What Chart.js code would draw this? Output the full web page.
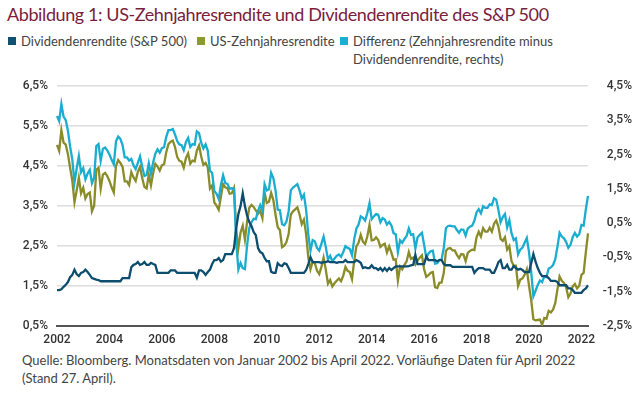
<!DOCTYPE html>
<html lang="de">
<head>
<meta charset="utf-8">
<title>Abbildung 1</title>
<script src="https://cdn.jsdelivr.net/npm/chart.js@4.4.1/dist/chart.umd.min.js"></script>
<style>
  html, body { margin: 0; padding: 0; background: #fff; }
  body { width: 640px; height: 395px; position: relative; overflow: hidden; font-family: Lato, "Open Sans", sans-serif; }
  #title { position: absolute; left: 7px; top: 3px; font-size: 18px; letter-spacing: -0.4px; color: #7b1d3d; white-space: nowrap; }
  .legend { position: absolute; top: 32px; font-size: 13px; color: #444; line-height: 18px; white-space: nowrap; }
  .legend i { position: absolute; left: 0; top: 5px; width: 8px; height: 8px; }
  .legend span { display: block; padding-left: 13px; }
  #chartBox { position: absolute; left: 0; top: 70px; width: 640px; height: 280px; }
  #source { position: absolute; left: 22px; top: 351px; font-size: 13px; color: #444; line-height: 18px; width: 610px; }
</style>
</head>
<body>
<div id="title">Abbildung 1: US-Zehnjahresrendite und Dividendenrendite des S&amp;P 500</div>
<div class="legend" style="left:8px"><i style="background:#11506f"></i><span>Dividendenrendite (S&amp;P 500)</span></div>
<div class="legend" style="left:197px"><i style="background:#8b9a2e"></i><span>US-Zehnjahresrendite</span></div>
<div class="legend" style="left:340px"><i style="background:#1ab0d4"></i><span>Differenz (Zehnjahresrendite minus<br>Dividendenrendite, rechts)</span></div>
<div id="chartBox"><canvas id="chart"></canvas></div>
<div id="source">Quelle: Bloomberg. Monatsdaten von Januar 2002 bis April 2022. Vorläufige Daten für April 2022<br>(Stand 27. April).</div>
<script>
// Monatsdaten Januar 2002 - April 2022
const firstYear = 2002;
const lastYear = 2022;
const lastMonth = 4;

// Dividendenrendite S&P 500 (%), linke Achse
const dividendYield = [
  1.40, 1.40, 1.42, 1.48, 1.53, 1.60, 1.72, 1.78, 1.91, 1.80, 1.75, 1.83,
  1.85, 1.91, 1.85, 1.78, 1.70, 1.68, 1.66, 1.65, 1.62, 1.62, 1.62, 1.62,
  1.62, 1.62, 1.62, 1.62, 1.62, 1.62, 1.70, 1.70, 1.70, 1.70, 1.97, 2.03,
  2.05, 2.10, 2.03, 2.05, 2.10, 2.03, 2.03, 2.08, 2.05, 2.03, 1.83, 1.83,
  1.83, 1.83, 1.83, 1.83, 1.89, 1.89, 1.89, 1.83, 1.83, 1.83, 1.83, 1.83,
  1.83, 1.83, 1.83, 1.83, 1.71, 1.89, 1.89, 1.85, 1.78, 1.85, 1.91, 2.05,
  2.15, 2.15, 2.20, 2.11, 2.15, 2.30, 2.30, 2.30, 2.30, 2.45, 2.95, 3.30,
  3.50, 3.82, 3.50, 3.26, 3.10, 3.00, 2.85, 2.77, 2.45, 2.35, 2.32, 2.20,
  2.12, 2.12, 1.86, 1.83, 1.83, 2.07, 2.02, 2.00, 2.07, 2.05, 1.95, 1.83,
  1.83, 1.83, 1.83, 1.83, 1.83, 1.83, 1.90, 2.05, 2.22, 2.10, 2.10, 2.10,
  2.10, 2.08, 2.10, 2.10, 2.12, 2.10, 2.10, 2.10, 2.08, 2.10, 2.10, 2.10,
  2.15, 2.10, 2.10, 2.10, 2.10, 2.15, 2.12, 2.08, 1.95, 1.97, 1.95, 1.95,
  2.02, 1.95, 1.95, 1.90, 1.95, 1.88, 1.95, 1.88, 1.95, 1.90, 1.95, 1.99,
  1.99, 1.99, 1.99, 1.99, 1.99, 2.00, 2.02, 2.03, 2.28, 2.05, 2.05, 2.05,
  2.05, 2.24, 2.15, 2.15, 2.15, 2.15, 2.12, 2.15, 2.15, 2.05, 2.02, 2.02,
  2.02, 1.98, 1.98, 1.98, 1.98, 1.98, 1.98, 1.98, 1.98, 1.98, 1.98, 1.83,
  1.90, 1.95, 1.95, 1.95, 1.91, 1.91, 1.91, 1.83, 1.83, 1.95, 2.10, 2.15,
  1.95, 1.95, 2.03, 1.91, 1.91, 2.00, 1.95, 1.91, 1.93, 1.90, 1.85, 1.85,
  1.85, 2.07, 2.30, 2.11, 1.95, 1.83, 1.75, 1.75, 1.75, 1.70, 1.63, 1.63,
  1.63, 1.60, 1.52, 1.52, 1.52, 1.52, 1.44, 1.44, 1.40, 1.33, 1.33, 1.33,
  1.33, 1.40, 1.44, 1.52
];

// US-Zehnjahresrendite (%), linke Achse
const treasuryYield = [
  5.03, 4.88, 5.40, 5.09, 5.04, 4.80, 4.46, 4.14, 3.60, 3.89, 4.21, 3.82,
  3.96, 3.69, 3.80, 3.84, 3.37, 3.51, 4.41, 4.46, 3.94, 4.29, 4.33, 4.25,
  4.13, 3.97, 3.84, 4.51, 4.65, 4.58, 4.48, 4.12, 4.12, 4.03, 4.35, 4.22,
  4.13, 4.36, 4.48, 4.20, 3.98, 3.94, 4.28, 4.02, 4.33, 4.56, 4.49, 4.39,
  4.52, 4.55, 4.85, 5.05, 5.11, 5.14, 4.98, 4.73, 4.63, 4.61, 4.46, 4.70,
  4.82, 4.56, 4.64, 4.62, 4.89, 5.02, 4.74, 4.53, 4.58, 4.47, 3.94, 4.02,
  3.59, 3.51, 3.41, 3.73, 4.05, 3.97, 3.95, 3.81, 3.82, 3.95, 2.92, 2.45,
  2.84, 3.01, 2.66, 3.12, 3.46, 3.53, 3.48, 3.39, 3.31, 3.38, 3.20, 3.84,
  3.58, 3.61, 3.83, 3.65, 3.29, 2.97, 2.90, 2.47, 2.51, 2.60, 2.80, 3.29,
  3.37, 3.42, 3.47, 3.29, 3.05, 3.16, 2.80, 2.22, 1.92, 2.11, 2.07, 1.88,
  1.80, 1.98, 2.21, 1.91, 1.56, 1.65, 1.49, 1.57, 1.63, 1.69, 1.62, 1.76,
  1.98, 1.88, 1.85, 1.67, 2.13, 2.49, 2.58, 2.78, 2.61, 2.55, 2.74, 3.03,
  2.64, 2.65, 2.72, 2.65, 2.48, 2.53, 2.56, 2.34, 2.49, 2.34, 2.16, 2.17,
  1.64, 1.99, 1.92, 2.03, 2.12, 2.35, 2.18, 2.21, 2.04, 2.14, 2.21, 2.27,
  1.92, 1.73, 1.77, 1.83, 1.85, 1.47, 1.45, 1.58, 1.59, 1.83, 2.38, 2.44,
  2.45, 2.39, 2.39, 2.28, 2.20, 2.30, 2.29, 2.12, 2.33, 2.38, 2.41, 2.40,
  2.72, 2.86, 2.74, 2.95, 2.86, 2.86, 2.96, 2.86, 3.06, 3.14, 2.99, 2.68,
  2.63, 2.72, 2.41, 2.50, 2.12, 2.01, 2.01, 1.50, 1.66, 1.69, 1.78, 1.92,
  1.51, 1.15, 0.67, 0.64, 0.65, 0.66, 0.53, 0.70, 0.68, 0.88, 0.84, 0.91,
  1.07, 1.41, 1.74, 1.63, 1.58, 1.47, 1.22, 1.31, 1.49, 1.55, 1.44, 1.51,
  1.78, 1.83, 2.34, 2.82
];

// Differenz Zehnjahresrendite minus Dividendenrendite (%), rechte Achse
const yieldSpread = [
  3.63, 3.48, 3.98, 3.61, 3.51, 3.20, 2.74, 2.36, 1.69, 2.09, 2.46, 1.99,
  2.11, 1.78, 1.95, 2.06, 1.67, 1.83, 2.75, 2.81, 2.32, 2.67, 2.71, 2.63,
  2.51, 2.35, 2.22, 2.89, 3.03, 2.96, 2.78, 2.42, 2.42, 2.33, 2.38, 2.19,
  2.08, 2.26, 2.45, 2.15, 1.88, 1.91, 2.25, 1.94, 2.28, 2.53, 2.66, 2.56,
  2.69, 2.72, 3.02, 3.22, 3.22, 3.25, 3.09, 2.90, 2.80, 2.78, 2.63, 2.87,
  2.99, 2.73, 2.81, 2.79, 3.18, 3.13, 2.85, 2.68, 2.80, 2.62, 2.03, 1.97,
  1.44, 1.36, 1.21, 1.62, 1.90, 1.67, 1.65, 1.51, 1.52, 1.50, -0.03, -0.85,
  -0.66, -0.81, -0.84, -0.14, 0.36, 0.53, 0.63, 0.62, 0.86, 1.03, 0.88, 1.64,
  1.46, 1.49, 1.97, 1.82, 1.46, 0.90, 0.88, 0.47, 0.44, 0.55, 0.85, 1.46,
  1.54, 1.59, 1.64, 1.46, 1.22, 1.33, 0.90, 0.17, -0.30, 0.01, -0.03, -0.22,
  -0.30, -0.10, 0.11, -0.19, -0.56, -0.45, -0.61, -0.53, -0.45, -0.41, -0.48, -0.34,
  -0.17, -0.22, -0.25, -0.43, 0.03, 0.34, 0.46, 0.70, 0.66, 0.58, 0.79, 1.08,
  0.62, 0.70, 0.77, 0.75, 0.53, 0.65, 0.61, 0.46, 0.54, 0.44, 0.21, 0.18,
  -0.35, 0.00, -0.07, 0.04, 0.13, 0.35, 0.16, 0.18, -0.24, 0.09, 0.16, 0.22,
  -0.13, -0.51, -0.38, -0.32, -0.30, -0.68, -0.67, -0.57, -0.56, -0.22, 0.36, 0.42,
  0.43, 0.41, 0.41, 0.30, 0.22, 0.32, 0.31, 0.14, 0.35, 0.40, 0.43, 0.57,
  0.82, 0.91, 0.79, 1.00, 0.95, 0.95, 1.05, 1.03, 1.23, 1.19, 0.89, 0.53,
  0.68, 0.77, 0.38, 0.59, 0.21, 0.01, 0.06, -0.41, -0.27, -0.21, -0.07, 0.07,
  -0.34, -0.92, -1.63, -1.47, -1.30, -1.17, -1.22, -1.05, -1.07, -0.82, -0.79, -0.72,
  -0.56, -0.19, 0.22, 0.11, 0.06, -0.05, -0.22, -0.13, 0.09, 0.22, 0.11, 0.18,
  0.45, 0.43, 0.90, 1.30
];

// month labels "YYYY-MM"
const months = [];
for (let y = firstYear; y <= lastYear; y++) {
  for (let m = 1; m <= 12; m++) {
    if (y === lastYear && m > lastMonth) break;
    months.push(y + '-' + String(m).padStart(2, '0'));
  }
}

const tickFont = { family: 'Roboto, "DejaVu Sans", sans-serif', size: 12, weight: '500' };
const pct = v => v.toFixed(1).replace('.', ',') + '%';

new Chart(document.getElementById('chart'), {
  type: 'line',
  data: {
    labels: months,
    datasets: [
      { label: 'Dividendenrendite (S&P 500)', data: dividendYield, yAxisID: 'y',
        borderColor: '#0d4d6e', borderWidth: 2.3, pointRadius: 0, tension: 0 },
      { label: 'Differenz (Zehnjahresrendite minus Dividendenrendite, rechts)', data: yieldSpread, yAxisID: 'y1',
        borderColor: '#1aadd0', borderWidth: 2.3, pointRadius: 0, tension: 0 },
      { label: 'US-Zehnjahresrendite', data: treasuryYield, yAxisID: 'y',
        borderColor: '#8a8c2a', borderWidth: 2.3, pointRadius: 0, tension: 0 }
    ]
  },
  options: {
    responsive: true,
    maintainAspectRatio: false,
    animation: false,
    layout: { padding: { left: 0, right: 8, top: 10, bottom: 0 } },
    plugins: { legend: { display: false }, tooltip: { enabled: false } },
    scales: {
      x: {
        type: 'category',
        offset: false,
        grid: { display: false, drawTicks: false },
        border: { display: true, color: '#555', width: 2 },
        ticks: {
          autoSkip: false, maxRotation: 0, padding: 7, color: '#333', font: tickFont,
          callback: (v, i) => {
            const l = months[i];
            const yr = +l.slice(0, 4);
            return l.endsWith('-01') && yr % 2 === 0 ? String(yr) : '';
          }
        },
        afterFit: s => { s.height = 24; }
      },
      y: {
        position: 'left', min: 0.5, max: 6.5,
        grid: { color: '#dddddd', lineWidth: 1.5, drawTicks: false },
        border: { display: false },
        ticks: { stepSize: 1, padding: 9, color: '#333', font: tickFont, callback: pct },
        afterFit: s => { s.width = 57; }
      },
      y1: {
        position: 'right', min: -2.5, max: 4.5,
        grid: { display: false, drawTicks: false },
        border: { display: false },
        ticks: { stepSize: 1, crossAlign: 'far', color: '#333', font: tickFont, callback: pct },
        afterFit: s => { s.width = 44; }
      }
    }
  }
});
</script>
</body>
</html>
